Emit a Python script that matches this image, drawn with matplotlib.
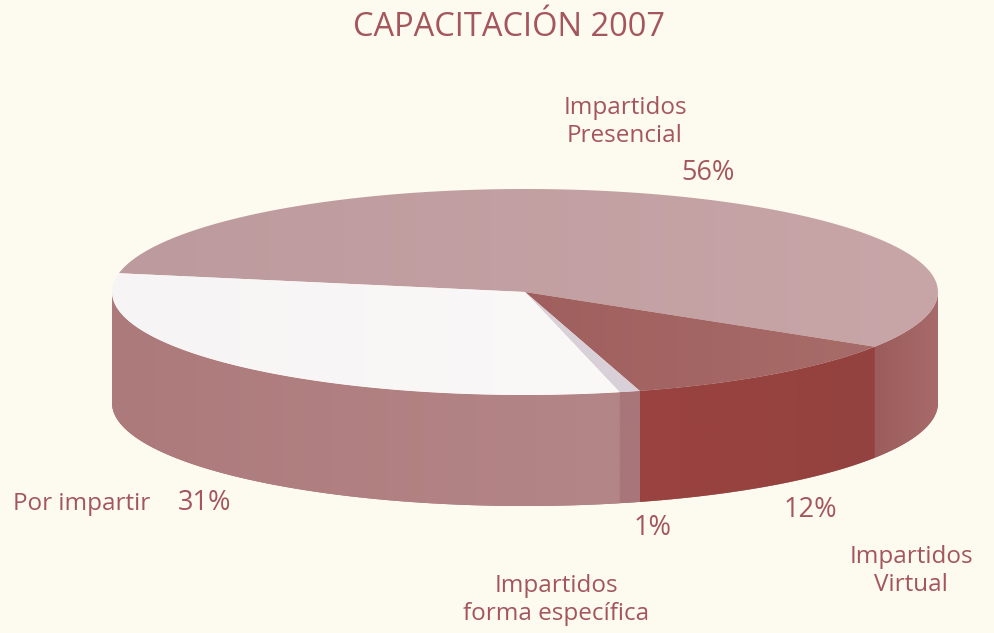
import numpy as np
import matplotlib
matplotlib.use('Agg')
import matplotlib.pyplot as plt
from matplotlib.colors import LinearSegmentedColormap
from matplotlib.patches import Polygon

title = 'CAPACITACIÓN 2007'
categories = ['Impartidos\nPresencial', 'Impartidos\nVirtual', 'Impartidos\nforma específica', 'Por impartir']
# slice sizes as measured on the picture, the printed labels are rounded
values = [56, 11.6, 0.8, 31.6]
pct_labels = ['56%', '12%', '1%', '31%']
top_colors = [('#bd9a9d', '#c8a6a8'), ('#a05f5e', '#a76c69'), ('#d9d0d8', '#d9d0d8'), ('#f7f4f5', '#fbf8f8')]
wall_colors = [('#9c5c5c', '#a86a6a'), ('#9a4240', '#94423f'), ('#a8767a', '#a8767a'), ('#ad7a7b', '#b48688')]

bg = '#fdfbf0'
text_col = '#a4565c'
cx, cy, rx, ry = 525, 292, 413, 103
depth = 111
start = 190.5

fig = plt.figure(figsize=(9.95, 6.33), dpi=100, facecolor=bg)
ax = fig.add_axes([0, 0, 1, 1])
ax.set_xlim(0, 995)
ax.set_ylim(633, 0)
ax.axis('off')
plt.rcParams['font.family'] = 'Open Sans'


def arc(t1, t2, dy=0):
    t = np.radians(np.linspace(t1, t2, 200))
    return np.column_stack([cx + rx*np.cos(t), cy + dy + ry*np.sin(t)])


def fill(pts, cols, z):
    # horizontal gradient clipped to the shape
    cmap = LinearSegmentedColormap.from_list('g', cols)
    x0, x1 = pts[:, 0].min(), pts[:, 0].max()
    y0, y1 = pts[:, 1].min(), pts[:, 1].max()
    im = ax.imshow(np.linspace(0, 1, 256).reshape(1, -1), cmap=cmap, aspect='auto',
                   extent=[x0, x1, y1, y0], zorder=z)
    poly = Polygon(pts, closed=True, fc='none', ec='none', transform=ax.transData)
    ax.add_patch(poly)
    im.set_clip_path(poly)


# solid base so no seams show between the walls
base = np.vstack([arc(0, 180), arc(0, 180, depth)[::-1]])
ax.add_patch(Polygon(base, closed=True, fc='#a87478', ec='none', zorder=1))

# slice edges, clockwise on screen
angles = start + 3.6*np.concatenate([[0], np.cumsum(values)])

for i in range(len(values)):
    a1, a2 = angles[i], angles[i+1]
    pts = np.vstack([[cx, cy], arc(a1, a2)])
    fill(pts, top_colors[i], 3)
    # walls, front half only
    for shift in (0, 360):
        w1 = max(a1, shift)
        w2 = min(a2, shift + 180)
        if w2 > w1:
            wall = np.vstack([arc(w1, w2), arc(w1, w2, depth)[::-1]])
            fill(wall, wall_colors[i], 2)

ax.set_xlim(0, 995)
ax.set_ylim(633, 0)

ax.text(509, 27, title, color=text_col, fontsize=23.5, ha='center', va='center')
tkw = dict(color=text_col, fontsize=17.5, ha='center', va='center', linespacing=1.25)
pkw = dict(color=text_col, fontsize=19.5, ha='center', va='center')
ax.text(625, 122, categories[0], **tkw)
ax.text(708, 173, pct_labels[0], **pkw)
ax.text(911, 571, categories[1], **tkw)
ax.text(810, 510, pct_labels[1], **pkw)
ax.text(556, 600, categories[2], **tkw)
ax.text(653, 528, pct_labels[2], **pkw)
ax.text(82, 504, categories[3], **tkw)
ax.text(205, 503, pct_labels[3], **pkw)

fig.savefig('out.png', dpi=100, facecolor=bg)
